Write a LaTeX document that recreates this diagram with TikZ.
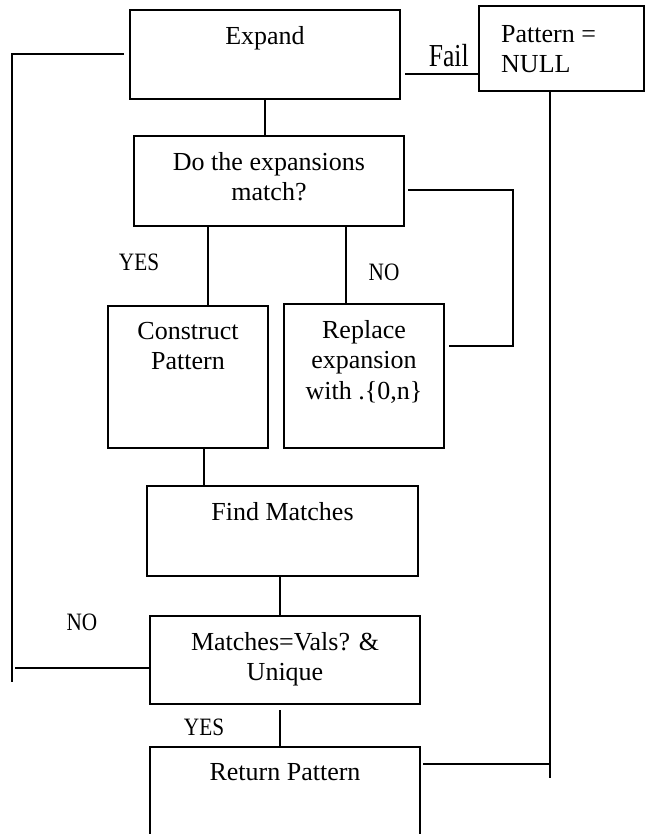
\documentclass[tikz,border=0pt]{standalone}
\usepackage{fontspec}
\setmainfont{Liberation Serif}
\usetikzlibrary{positioning}

\begin{document}
\begin{tikzpicture}
[x=1pt,y=-1pt]
\tikzset{
	block/.style = {rectangle, draw, line width=2pt},
	intext/.style = {anchor=north, inner sep=0pt, yshift=-17pt, align=center, font=\fontsize{26}{30.5}\selectfont},
	answer/.style = {inner sep=0pt, font=\fontsize{25}{28}\selectfont},
	link/.style = {line width=2pt}
}
\clip (0,0) rectangle (645,834);

% boxes
\node(expand) [block, minimum width=270pt, minimum height=89pt, label={[intext]north:Expand}] at (265,54.5) {};
\node(nullpat) [block, minimum width=165pt, minimum height=85pt,
	label={[intext, anchor=north west, align=left, xshift=23pt, yshift=-3pt]north west:Pattern =\\NULL}] at (561.5,48.5) {};
\node(match) [block, minimum width=270pt, minimum height=90pt, label={[intext]north:Do the expansions\\match?}] at (269,181) {};
\node(construct) [block, minimum width=160pt, minimum height=142pt, label={[intext]north:Construct\\Pattern}] at (188,377) {};
\node(replace) [block, minimum width=160pt, minimum height=144pt, label={[intext]north:Replace\\expansion\\with .\{0,n\}}] at (364,376) {};
\node(find) [block, minimum width=271pt, minimum height=90pt, label={[intext]north:Find Matches}] at (282.5,531) {};
\node(check) [block, minimum width=270pt, minimum height=88pt, label={[intext]north:Matches=Vals? \&\\Unique}] at (285,660) {};
\node(return) [block, minimum width=270pt, minimum height=100pt, label={[intext]north:Return Pattern}] at (285,797) {};

% answers
\node(yes1) [answer] at (139,262) {\scalebox{0.85}[1]{YES}};
\node(no1) [answer] at (384,272) {\scalebox{0.85}[1]{NO}};
\node(no2) [answer] at (82,622) {\scalebox{0.85}[1]{NO}};
\node(yes2) [answer] at (204,727) {\scalebox{0.85}[1]{YES}};

\coordinate (loopL) at (12,682);
\coordinate (retR) at (550,778);

% connectors
\draw[link] ([xshift=-5pt]expand.west) -| (loopL);
\draw[link] ([yshift=-8pt]check.west) -- ([yshift=-8pt,xshift=3pt]check.west -| loopL);
\draw[link] ([yshift=-19.5pt,xshift=4pt]expand.east) -- ([yshift=-19.5pt]expand.east -| nullpat.west)
	node(fail) [pos=0.6, above=6pt, inner sep=0pt, font=\fontsize{32}{34}\selectfont] {\scalebox{0.8}[1]{Fail}};
\draw[link] (expand.south) -- (expand.south |- match.north);
\draw[link] ([xshift=20pt]construct.north) -- ([xshift=20pt]construct.north |- match.south);
\draw[link] ([xshift=-18pt]replace.north) -- ([xshift=-18pt]replace.north |- match.south);
\draw[link] ([yshift=30pt,xshift=4pt]replace.east) -- ++(64,0) |- ([yshift=-9pt,xshift=3pt]match.east);
\draw[link] ([xshift=16pt]construct.south) -- ([xshift=16pt]construct.south |- find.north);
\draw[link] ([xshift=-2.5pt]find.south) -- ([xshift=-2.5pt]find.south |- check.north);
\draw[link] ([xshift=-5pt,yshift=-5pt]check.south) -- ([xshift=-5pt]check.south |- return.north);
\draw[link] ([xshift=-11.5pt]nullpat.south) -- ([xshift=-11.5pt]nullpat.south |- retR);
\draw[link] ([yshift=33pt,xshift=2pt]return.east) -- ([yshift=33pt]return.east -| retR);
\end{tikzpicture}
\end{document}
